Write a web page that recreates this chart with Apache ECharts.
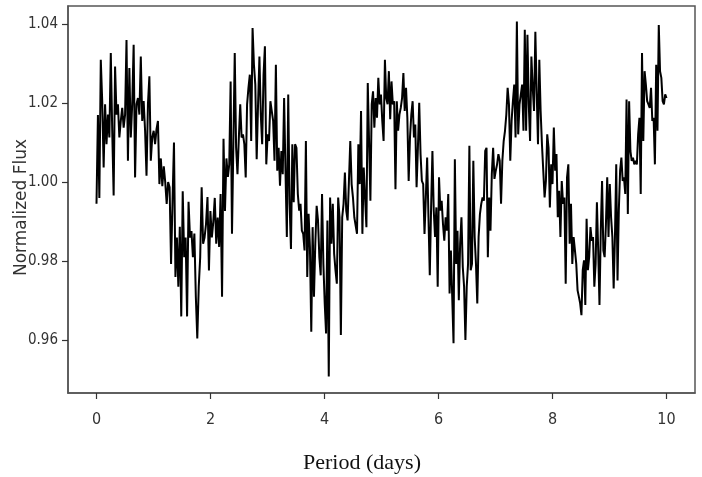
<!DOCTYPE html>
<html>
<head>
<meta charset="utf-8">
<script src="https://cdn.jsdelivr.net/npm/echarts@6/dist/echarts.min.js"></script>
<style>
html,body{margin:0;padding:0;background:#fff;}
#chart{width:702px;height:477px;}
</style>
</head>
<body>
<div id="chart"></div>
<script>
// Time boundaries (days) of the sections the light curve was read in
const segBounds = [0, 1.078, 2.305, 3.532, 4.759, 5.986, 7.213, 8.44, 10.0];

// Normalized flux values, section by section
const seg1 = [0.9945, 1.017, 0.996, 1.031, 1.0205, 1.0037, 1.0197, 1.0096, 1.0171, 1.0113, 1.0327, 1.013, 0.9966, 1.0293, 1.0171, 1.0197, 1.0113, 1.0155, 1.0188, 1.0138, 1.0171, 1.036, 1.0054, 1.0289, 1.0113, 1.0197, 1.0348, 1.0012, 1.0197, 1.0213, 1.0171, 1.0318, 1.0155, 1.0205, 1.013, 1.0016, 1.0197, 1.0268, 1.0054, 1.0113, 1.013, 1.0096, 1.0134, 1.0155];
const seg2 = [0.9995, 1.006, 0.999, 1.004, 1.000, 0.9945, 1.000, 0.9987, 0.9793, 0.995, 1.010, 0.976, 0.986, 0.9735, 0.9887, 0.966, 0.9977, 0.981, 0.986, 0.966, 0.995, 0.986, 0.9876, 0.981, 0.987, 0.971, 0.9604, 0.9735, 0.981, 0.9987, 0.9844, 0.986, 0.9894, 0.9962, 0.9776, 0.9927, 0.986, 0.990, 0.996, 0.9844, 0.991, 0.9836, 0.997, 0.971, 1.011, 0.9927, 1.006, 1.0013];
const seg3 = [1.0045, 1.0255, 0.9869, 1.0096, 1.0327, 1.0087, 1.002, 1.0113, 1.0197, 1.0113, 1.0121, 1.0096, 1.0012, 1.0197, 1.0239, 1.0272, 1.0104, 1.039, 1.0297, 1.0247, 1.0058, 1.0197, 1.0318, 1.0171, 1.0096, 1.0272, 1.0344, 1.0045, 1.0121, 1.0104, 1.0205, 1.018, 1.0155, 1.0054, 1.0297, 1.0029, 1.0087, 0.9991, 1.0079, 1.002, 1.0213, 1.0029, 0.9861, 1.0222, 0.9945, 0.9831, 1.0096, 0.9949, 1.0096, 1.0087, 0.997];
const seg4 = [0.9928, 0.9945, 0.9877, 0.9869, 0.9827, 1.0104, 0.976, 0.992, 0.9835, 0.9621, 0.9886, 0.971, 0.9844, 0.994, 0.9903, 0.981, 0.9764, 0.997, 0.9793, 0.9693, 0.9617, 0.9903, 0.9508, 0.9961, 0.9844, 0.9945, 0.9819, 0.9777, 0.9743, 0.9961, 0.9911, 0.9613, 0.9911, 0.9945, 1.0024, 0.9928, 0.9903, 1.0003, 1.0104, 0.9995, 0.9961, 0.9911, 0.9911, 0.9869, 1.0096, 0.9995, 1.018, 0.9869, 1.0037, 0.9961, 0.9886, 1.0251];
const seg5 = [1.0251, 0.9953, 1.0197, 1.023, 1.0138, 1.0213, 1.0163, 1.0264, 1.0197, 1.0222, 1.0155, 1.0104, 1.031, 1.0213, 1.0197, 1.0281, 1.0159, 1.0255, 1.0197, 1.0205, 0.9982, 1.0205, 1.013, 1.0171, 1.0188, 1.0213, 1.0276, 1.018, 1.0239, 1.0163, 1.0003, 1.0113, 1.0171, 1.0205, 1.0113, 1.0146, 0.9987, 1.0087, 1.0201, 1.0071, 1.0003, 0.9995, 0.9869, 0.9961, 1.0062, 0.9911, 0.9764, 0.9936, 1.0079, 0.9928, 0.9861, 0.9936, 0.9735];
const seg6 = [1.0012, 0.9928, 0.9953, 0.9894, 0.9852, 0.9911, 0.9877, 0.997, 0.9718, 0.9827, 0.971, 0.9592, 1.0058, 0.9793, 0.9877, 0.9701, 0.9844, 0.9911, 0.9785, 0.9735, 0.960, 0.9735, 0.9793, 1.0092, 0.9777, 0.9793, 1.0054, 0.9861, 0.9793, 0.9693, 0.9861, 0.9919, 0.9945, 0.9961, 0.9953, 1.0079, 1.0087, 0.981, 0.9961, 0.9877, 1.002, 1.0087, 1.0008, 1.0029, 1.0045, 1.0071, 1.0054, 0.9945, 1.0054, 1.0104, 1.013, 1.0171, 1.0239];
const seg7 = [1.0197, 1.0054, 1.0155, 1.0205, 1.0247, 1.0113, 1.0407, 1.0121, 1.0197, 1.0222, 1.0247, 1.013, 1.0386, 1.013, 1.0373, 1.0197, 1.0104, 1.0318, 1.0239, 1.018, 1.0381, 1.023, 1.0096, 1.031, 1.018, 1.0096, 1.0029, 0.9961, 1.0003, 1.0121, 1.0087, 0.9936, 1.0045, 0.9995, 1.0138, 1.0029, 1.0071, 0.9911, 0.9978, 0.9861, 1.0003, 0.9945, 0.9961, 0.9743, 1.0012, 1.0045, 0.9844, 0.9945, 0.9793, 0.9861, 0.9827, 0.9793, 0.9726];
const seg8 = [0.971, 0.9693, 0.9663, 0.9777, 0.9802, 0.9689, 0.9907, 0.9777, 0.981, 0.9886, 0.9852, 0.9861, 0.9735, 0.9793, 0.9949, 0.9827, 0.9689, 0.9877, 1.0003, 0.9827, 0.981, 0.9894, 1.0012, 0.9861, 0.9995, 0.9911, 0.9861, 0.9731, 0.9861, 1.0045, 0.9751, 0.9928, 1.0029, 1.0062, 1.0003, 1.0012, 0.997, 1.0209, 0.9919, 1.0205, 1.0079, 1.0054, 1.0062, 1.0045, 1.0054, 1.0045, 1.0121, 1.0163, 0.997, 1.0327, 1.0104, 1.0281, 1.0247, 1.0205, 1.0197, 1.0188, 1.0239, 1.0155, 1.0163, 1.0045, 1.0297, 1.013, 1.0398, 1.0281, 1.0264, 1.0205, 1.0197, 1.0222, 1.0213];

const segments = [seg1, seg2, seg3, seg4, seg5, seg6, seg7, seg8];

// Tick labels
const xTicks = [0, 2, 4, 6, 8, 10];
const yTicks = [0.96, 0.98, 1.00, 1.02, 1.04];

// Build [time, flux] pairs: readings spread evenly over their section
const points = [];
segments.forEach(function (seg, k) {
  const a = segBounds[k], b = segBounds[k + 1];
  const n = seg.length;
  seg.forEach(function (v, i) {
    const t = k === 0 ? a + (b - a) * i / (n - 1) : a + (b - a) * (i + 1) / n;
    points.push([t, v]);
  });
});

const chart = echarts.init(document.getElementById('chart'), null, {renderer: 'canvas'});
const tickFont = "'Liberation Sans Narrow', 'DejaVu Sans Condensed', 'Roboto Condensed', 'Liberation Sans', sans-serif";
chart.setOption({
  animation: false,
  backgroundColor: '#ffffff',
  grid: {
    left: 68, right: 7, top: 6, bottom: 84,
    outerBoundsMode: 'none',
    containLabel: false,
    show: true, borderColor: '#555', borderWidth: 1.5, backgroundColor: 'transparent'
  },
  xAxis: {
    type: 'value',
    min: -0.5, max: 10.5,
    name: 'Period (days)',
    nameLocation: 'middle',
    nameGap: 59,
    nameMoveOverlap: false,
    nameTextStyle: {fontFamily: "'Liberation Serif', 'DejaVu Serif', serif", fontSize: 22, color: '#111', padding: [0, 39, 0, 0]},
    axisLine: {show: true, onZero: false, lineStyle: {color: '#555', width: 1.5}},
    axisTick: {show: true, length: 6, inside: false, lineStyle: {color: '#333', width: 1.2}, customValues: xTicks},
    axisLabel: {fontFamily: tickFont, fontSize: 16, color: '#333', margin: 19, customValues: xTicks,
      formatter: function (v) { return String(v); }},
    splitLine: {show: false}
  },
  yAxis: {
    type: 'value',
    min: 0.9466, max: 1.0446,
    name: 'Normalized Flux',
    nameLocation: 'middle',
    nameGap: 38,
    nameRotate: 90,
    nameMoveOverlap: false,
    nameTextStyle: {fontFamily: "'DejaVu Sans', sans-serif", fontSize: 17, color: '#333', padding: [0, 16, 0, 0]},
    axisLine: {show: true, onZero: false, lineStyle: {color: '#555', width: 1.5}},
    axisTick: {show: true, length: 6, inside: false, lineStyle: {color: '#333', width: 1.2}, customValues: yTicks},
    axisLabel: {fontFamily: tickFont, fontSize: 15, color: '#333', margin: 10, customValues: yTicks,
      formatter: function (v) { return v.toFixed(2); }},
    splitLine: {show: false}
  },
  series: [{
    type: 'line',
    data: points,
    showSymbol: false,
    symbol: 'none',
    lineStyle: {color: '#000', width: 2},
    clip: true
  }]
});
</script>
</body>
</html>
